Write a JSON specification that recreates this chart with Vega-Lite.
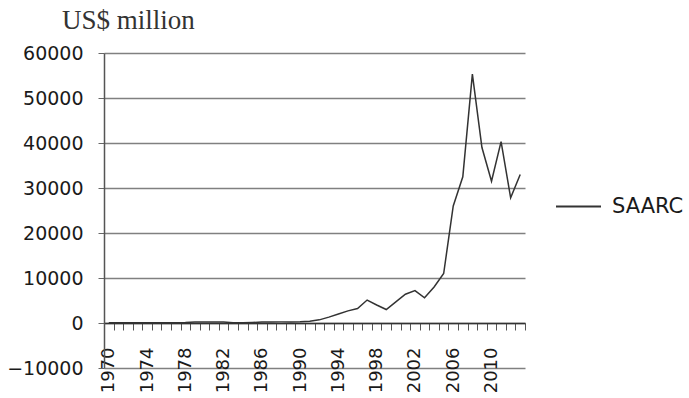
{
  "$schema": "https://vega.github.io/schema/vega-lite/v6.json",
  "width": 421,
  "height": 315,
  "autosize": "none",
  "padding": {"left": 104, "top": 53, "right": 164, "bottom": 30},
  "background": "white",
  "config": {"view": {"stroke": null}},
  "title": {
    "text": "US$ million",
    "font": "Liberation Serif",
    "fontSize": 27,
    "fontWeight": "normal",
    "color": "#333",
    "anchor": "start",
    "frame": "group",
    "dx": -42,
    "offset": 9
  },
  "data": {
    "values": [
      {"year": 1970, "value": 80, "series": "SAARC"},
      {"year": 1971, "value": 60, "series": "SAARC"},
      {"year": 1972, "value": 50, "series": "SAARC"},
      {"year": 1973, "value": 70, "series": "SAARC"},
      {"year": 1974, "value": 60, "series": "SAARC"},
      {"year": 1975, "value": 80, "series": "SAARC"},
      {"year": 1976, "value": 70, "series": "SAARC"},
      {"year": 1977, "value": 80, "series": "SAARC"},
      {"year": 1978, "value": 100, "series": "SAARC"},
      {"year": 1979, "value": 200, "series": "SAARC"},
      {"year": 1980, "value": 250, "series": "SAARC"},
      {"year": 1981, "value": 250, "series": "SAARC"},
      {"year": 1982, "value": 200, "series": "SAARC"},
      {"year": 1983, "value": 60, "series": "SAARC"},
      {"year": 1984, "value": 50, "series": "SAARC"},
      {"year": 1985, "value": 120, "series": "SAARC"},
      {"year": 1986, "value": 200, "series": "SAARC"},
      {"year": 1987, "value": 220, "series": "SAARC"},
      {"year": 1988, "value": 250, "series": "SAARC"},
      {"year": 1989, "value": 250, "series": "SAARC"},
      {"year": 1990, "value": 300, "series": "SAARC"},
      {"year": 1991, "value": 400, "series": "SAARC"},
      {"year": 1992, "value": 700, "series": "SAARC"},
      {"year": 1993, "value": 1300, "series": "SAARC"},
      {"year": 1994, "value": 2000, "series": "SAARC"},
      {"year": 1995, "value": 2700, "series": "SAARC"},
      {"year": 1996, "value": 3200, "series": "SAARC"},
      {"year": 1997, "value": 5100, "series": "SAARC"},
      {"year": 1998, "value": 4000, "series": "SAARC"},
      {"year": 1999, "value": 3000, "series": "SAARC"},
      {"year": 2000, "value": 4700, "series": "SAARC"},
      {"year": 2001, "value": 6400, "series": "SAARC"},
      {"year": 2002, "value": 7200, "series": "SAARC"},
      {"year": 2003, "value": 5600, "series": "SAARC"},
      {"year": 2004, "value": 8000, "series": "SAARC"},
      {"year": 2005, "value": 11000, "series": "SAARC"},
      {"year": 2006, "value": 26000, "series": "SAARC"},
      {"year": 2007, "value": 32500, "series": "SAARC"},
      {"year": 2008, "value": 55300, "series": "SAARC"},
      {"year": 2009, "value": 39000, "series": "SAARC"},
      {"year": 2010, "value": 31500, "series": "SAARC"},
      {"year": 2011, "value": 40300, "series": "SAARC"},
      {"year": 2012, "value": 27800, "series": "SAARC"},
      {"year": 2013, "value": 33000, "series": "SAARC"}
    ]
  },
  "mark": {"type": "line", "strokeWidth": 1.5},
  "encoding": {
    "x": {
      "field": "year",
      "type": "ordinal",
      "scale": {"type": "band", "paddingInner": 0, "paddingOuter": 0},
      "bandPosition": 0.5,
      "axis": {
        "orient": "bottom",
        "offset": -45,
        "title": null,
        "labelAngle": -90,
        "labelExpr": "(datum.value - 1970) % 4 == 0 ? datum.label : ''",
        "labelFont": "DejaVu Sans",
        "labelFontSize": 18,
        "labelColor": "#1a1a1a",
        "labelPadding": 17,
        "labelOverlap": false,
        "tickSize": 7,
        "tickColor": "#555",
        "tickBand": "extent",
        "domainColor": "#333",
        "domainWidth": 1.5,
        "grid": false
      }
    },
    "y": {
      "field": "value",
      "type": "quantitative",
      "scale": {"domain": [-10000, 60000], "nice": false, "zero": false},
      "axis": {
        "values": [-10000, 0, 10000, 20000, 30000, 40000, 50000, 60000],
        "format": "d",
        "title": null,
        "labelFont": "DejaVu Sans",
        "labelFontSize": 19,
        "labelColor": "#1a1a1a",
        "labelPadding": 15,
        "tickSize": 6,
        "tickColor": "#666",
        "domainColor": "#555",
        "domainWidth": 1.5,
        "grid": true,
        "gridColor": "#808080",
        "gridWidth": 1.5
      }
    },
    "color": {
      "field": "series",
      "type": "nominal",
      "scale": {"range": ["#333"]},
      "legend": {
        "orient": "none",
        "legendX": 451,
        "legendY": 130,
        "title": null,
        "symbolType": "stroke",
        "symbolSize": 2025,
        "symbolStrokeWidth": 2,
        "labelFont": "DejaVu Sans",
        "labelFontSize": 21,
        "labelColor": "#1a1a1a",
        "labelOffset": 10
      }
    }
  }
}
